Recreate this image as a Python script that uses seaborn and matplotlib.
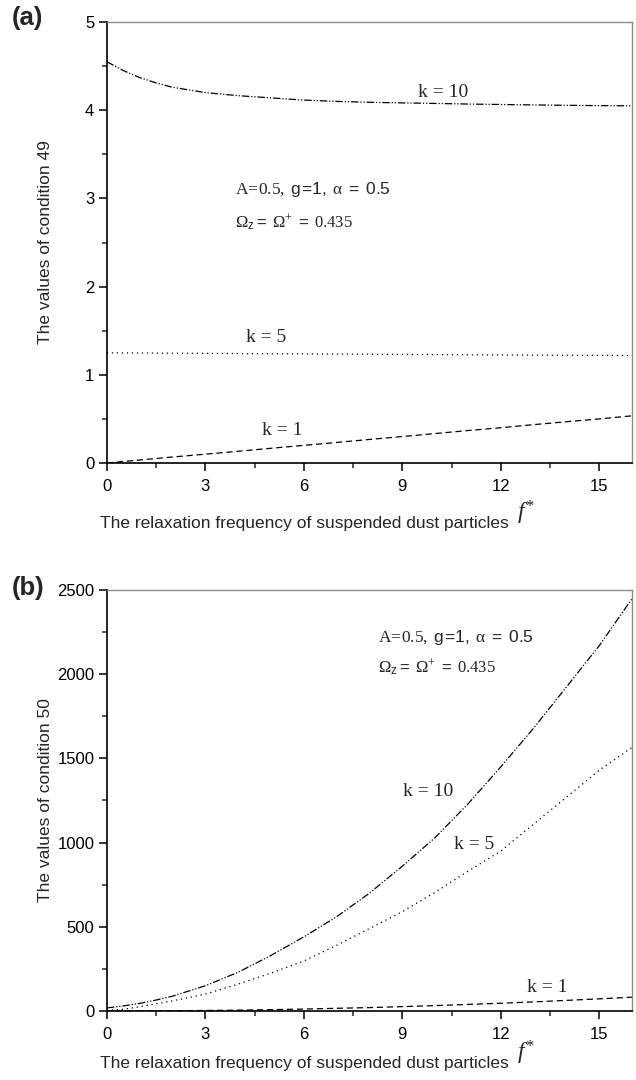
import pandas as pd
import matplotlib
matplotlib.use('Agg')
import matplotlib.pyplot as plt
import seaborn as sns
from matplotlib.ticker import MultipleLocator

# --- DATA ---
f_star = [0, 0.5, 1, 1.5, 2, 3, 4, 5, 6, 7, 8, 9, 10, 11, 12, 13, 14, 15, 16]

# (a) condition 49
c49_k1 = [0, 0.017, 0.034, 0.051, 0.068, 0.10, 0.133, 0.167, 0.20, 0.233, 0.267,
          0.30, 0.334, 0.368, 0.40, 0.435, 0.468, 0.50, 0.535]
c49_k5 = [1.249, 1.248, 1.247, 1.246, 1.245, 1.243, 1.241, 1.239, 1.237, 1.235, 1.233,
          1.231, 1.229, 1.227, 1.225, 1.223, 1.221, 1.220, 1.219]
c49_k10 = [4.55, 4.45, 4.37, 4.31, 4.26, 4.20, 4.165, 4.14, 4.115, 4.10, 4.09,
           4.083, 4.077, 4.07, 4.065, 4.06, 4.056, 4.052, 4.05]

# (b) condition 50
c50_k1 = [0, 0.1, 0.3, 0.7, 1.3, 3, 5, 8, 11.5, 16, 20, 26, 32, 39, 46, 54, 63, 72, 82]
c50_k5 = [4, 10, 25, 43, 60, 100, 160, 225, 297, 390, 490, 590, 705, 830, 950,
          1110, 1270, 1430, 1566]
c50_k10 = [18, 30, 45, 65, 88, 150, 230, 330, 440, 560, 700, 860, 1030, 1230, 1450,
           1680, 1925, 2170, 2450]

k_labels = ['k = 1', 'k = 5', 'k = 10']
dash_styles = {'k = 1': (5, 3), 'k = 5': (1, 3), 'k = 10': (6, 1.5, 1, 1.5, 1, 1.5)}


def long_table(k1, k5, k10):
    n = len(f_star)
    return pd.DataFrame({
        'f': f_star * 3,
        'value': k1 + k5 + k10,
        'k': [k_labels[0]] * n + [k_labels[1]] * n + [k_labels[2]] * n,
    })


df49 = long_table(c49_k1, c49_k5, c49_k10)
df50 = long_table(c50_k1, c50_k5, c50_k10)

sns.set_style('ticks')
plt.rcParams['font.family'] = ['Liberation Sans', 'DejaVu Sans']
plt.rcParams['mathtext.fontset'] = 'custom'
plt.rcParams['mathtext.rm'] = 'Liberation Serif'
plt.rcParams['mathtext.it'] = 'Liberation Serif:italic'
plt.rcParams['mathtext.sf'] = 'Liberation Sans'

fig = plt.figure(figsize=(6.36, 10.8), dpi=100)
ax1 = fig.add_axes([0.168, 0.5713, 0.826, 0.4083])
ax2 = fig.add_axes([0.168, 0.0639, 0.826, 0.3898])


def style_axes(ax, ymax, ymajor, ylabel, xlabel_y):
    ax.set_xlim(0, 16)
    ax.set_ylim(0, ymax)
    ax.xaxis.set_major_locator(MultipleLocator(3))
    ax.xaxis.set_minor_locator(MultipleLocator(1.5))
    ax.yaxis.set_major_locator(MultipleLocator(ymajor))
    ax.yaxis.set_minor_locator(MultipleLocator(ymajor / 2))
    ax.tick_params(which='major', direction='out', length=6, width=1.1,
                   labelsize=12, colors='black', pad=3)
    ax.tick_params(axis='x', which='major', pad=5.5)
    ax.tick_params(which='minor', direction='out', length=3.5, width=1.1)
    for side in ['top', 'right']:
        ax.spines[side].set_color('#8c8c8c')
        ax.spines[side].set_linewidth(1.0)
    for side in ['left', 'bottom']:
        ax.spines[side].set_color('black')
        ax.spines[side].set_linewidth(1.2)
    ax.set_xlabel('')
    ax.set_ylabel(ylabel, fontsize=12.5)
    ax.yaxis.set_label_coords(-0.102, 0.5)
    lab = ax.text(-0.013, xlabel_y, 'The relaxation frequency of suspended dust particles',
                  transform=ax.transAxes, fontsize=12.5, ha='left', va='center')
    ax.annotate(r'$f^{*}$', xy=(1, 0.25), xycoords=lab, xytext=(6, 0),
                textcoords='offset points', fontsize=17, ha='left', va='bottom')


def param_text(ax, x, y1, y2):
    ax.text(x, y1, r'$\mathrm{A\!=\!0.5,}\ \mathsf{g\!=\!1,}\ \mathrm{\alpha}\ \mathsf{=\ 0.5}$',
            fontsize=12.5, ha='left', va='center')
    ax.text(x, y2, r'$\Omega_{\mathsf{z}}\mathsf{=}\ \Omega^{+}\ \mathsf{=}\ \mathrm{0.435}$',
            fontsize=12, ha='left', va='center')


for ax, df in [(ax1, df49), (ax2, df50)]:
    sns.lineplot(data=df, x='f', y='value', style='k', dashes=dash_styles,
                 color='black', linewidth=0.9, legend=False, ax=ax)

style_axes(ax1, 5, 1, 'The values of condition 49', -0.137)
style_axes(ax2, 2500, 500, 'The values of condition 50', -0.125)

# curve labels
lab_kw = dict(family='Liberation Serif', fontsize=14, ha='center', va='center')
ax1.text(10.25, 4.2, 'k = 10', **lab_kw)
ax1.text(4.85, 1.42, 'k = 5', **lab_kw)
ax1.text(5.35, 0.37, 'k = 1', **lab_kw)
ax2.text(9.8, 1305, 'k = 10', **lab_kw)
ax2.text(11.2, 990, 'k = 5', **lab_kw)
ax2.text(13.4, 140, 'k = 1', **lab_kw)

param_text(ax1, 3.9, 3.1, 2.72)
param_text(ax2, 8.25, 2220, 2040)

fig.text(0.018, 0.983, '(a)', fontsize=18.5, fontweight='bold', va='center', ha='left')
fig.text(0.018, 0.4555, '(b)', fontsize=18.5, fontweight='bold', va='center', ha='left')

fig.savefig('out.png', dpi=100)
